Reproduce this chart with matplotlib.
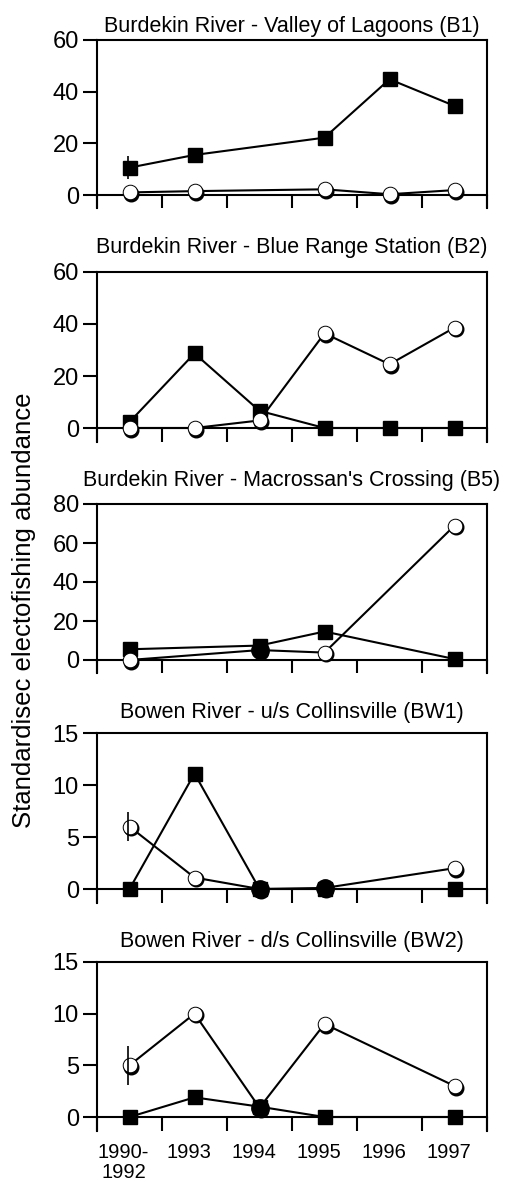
import numpy as np
import matplotlib
matplotlib.use("Agg")
import matplotlib.pyplot as plt
from matplotlib.transforms import offset_copy, ScaledTranslation

plt.rcParams['font.family'] = ['Liberation Sans', 'DejaVu Sans']

# x categories (sampling periods)
years = ["1990-\n1992", "1993", "1994", "1995", "1996", "1997"]

titles = ["Burdekin River - Valley of Lagoons (B1)",
          "Burdekin River - Blue Range Station (B2)",
          "Burdekin River - Macrossan's Crossing (B5)",
          "Bowen River - u/s Collinsville (BW1)",
          "Bowen River - d/s Collinsville (BW2)"]
y_max = [60, 60, 80, 15, 15]
y_step = [20, 20, 20, 5, 5]

# filled squares
b1_square = [10.6, 15.5, None, 22.2, 44.8, 34.5]
b2_square = [2.3, 28.7, 6.6, 0, 0, 0]
b5_square = [5.5, None, 7.4, 14.6, None, 0.5]
bw1_square = [0, 11.1, 0, 0, None, 0]
bw2_square = [0, 1.9, 1.0, 0, None, 0]

# open circles
b1_circle = [1.0, 1.5, None, 2.2, 0.3, 1.9]
b2_circle = [0, 0, 2.9, 36.4, 24.5, 38.6]
b5_circle = [0, None, 5.1, 3.8, None, 68.9]
bw1_circle = [6.0, 1.1, 0, 0.1, None, 2.0]
bw2_circle = [5.0, 10.0, 0.9, 9.0, None, 3.0]

# error on the first (1990-1992) point
square_err = [4.5, None, None, None, None]
circle_err = [None, None, None, 1.4, 1.9]

squares = [b1_square, b2_square, b5_square, bw1_square, bw2_square]
circles = [b1_circle, b2_circle, b5_circle, bw1_circle, bw2_circle]

# circles that merge with the square and print solid
solid_circles = [[], [], [2], [2, 3], [2]]

W, H = 505, 1185
fig = plt.figure(figsize=(W / 100, H / 100), dpi=100)

# panel pixel layout: (top, zero line, bottom)
rows = [(40, 195, 208), (272, 428, 442), (504, 660, 673), (733, 889, 903), (962, 1117, 1131)]
title_pad = [5.5, 13.7, 13, 10.6, 10.6]
left, right = 97, 487
lw = 1.5


def split(vals):
    x = np.array([i + 0.5 for i, v in enumerate(vals) if v is not None])
    y = np.array([v for v in vals if v is not None], dtype=float)
    return x, y


for k in range(5):
    top, zero, bot = rows[k]
    ax = fig.add_axes([left / W, 1 - bot / H, (right - left) / W, (bot - top) / H])
    ymin = -y_max[k] * (bot - zero) / (zero - top)
    ax.set_xlim(0, 6)
    ax.set_ylim(ymin, y_max[k])

    shadow = offset_copy(ax.transData, fig=fig, x=1.8, y=-1.8, units='dots')
    bar_tr = offset_copy(ax.transData, fig=fig, x=-2, y=0, units='dots')

    xs, ys = split(squares[k])
    ax.plot(xs, ys, color='black', lw=lw, zorder=3, clip_on=False)
    ax.plot(xs, ys, ls='none', marker='s', ms=10.2, mfc='black', mec='black',
            zorder=4, clip_on=False)
    if square_err[k] is not None:
        ax.errorbar([0.5], [squares[k][0]], yerr=square_err[k], fmt='none',
                    ecolor='black', elinewidth=1.2, capsize=0, zorder=2,
                    transform=bar_tr)

    xc, yc = split(circles[k])
    ax.plot(xc, yc, color='black', lw=lw, zorder=2, clip_on=False)
    ax.plot(xc, yc, ls='none', marker='o', ms=10.5, mfc='black', mec='black',
            transform=shadow, zorder=5, clip_on=False)
    ax.plot(xc, yc, ls='none', marker='o', ms=10.5, mfc='white', mec='black',
            mew=0.7, zorder=6, clip_on=False)
    for i in solid_circles[k]:
        ax.plot([i + 0.5], [circles[k][i]], marker='o', ms=12.5, mfc='black',
                mec='black', zorder=7, clip_on=False)
    if circle_err[k] is not None:
        ax.errorbar([0.5], [circles[k][0]], yerr=circle_err[k], fmt='none',
                    ecolor='black', elinewidth=1.2, capsize=0, zorder=8,
                    transform=bar_tr)

    # box frame with the x axis sitting on zero
    for s in ['left', 'right', 'top', 'bottom']:
        ax.spines[s].set_linewidth(lw)
    ax.spines['bottom'].set_position(('data', 0))
    tick_len = (bot - zero) * 0.72
    ax.set_xticks(np.arange(0, 7))
    ax.tick_params(axis='x', which='major', direction='out', length=tick_len,
                   width=lw, labelbottom=False)
    ax.set_yticks(np.arange(0, y_max[k] + 1, y_step[k]))
    ax.tick_params(axis='y', direction='out', length=10, width=lw,
                   labelsize=17, pad=3)

    if k == 4:
        ax.set_xticks(np.arange(6) + 0.5, minor=True)
        ax.set_xticklabels(years, minor=True, fontsize=14.5, linespacing=1.05)
        ax.tick_params(axis='x', which='minor', length=0, pad=19)
        shift = ScaledTranslation(-6 / 100, 0, fig.dpi_scale_trans)
        for lab in ax.get_xticklabels(minor=True):
            lab.set_transform(lab.get_transform() + shift)
    ax.set_title(titles[k], fontsize=15.5, pad=title_pad[k])

fig.text(24 / W, 1 - 610 / H, "Standardisec electofishing abundance",
         rotation=90, ha='center', va='center', fontsize=18.5)

fig.savefig("out.png", dpi=100)
